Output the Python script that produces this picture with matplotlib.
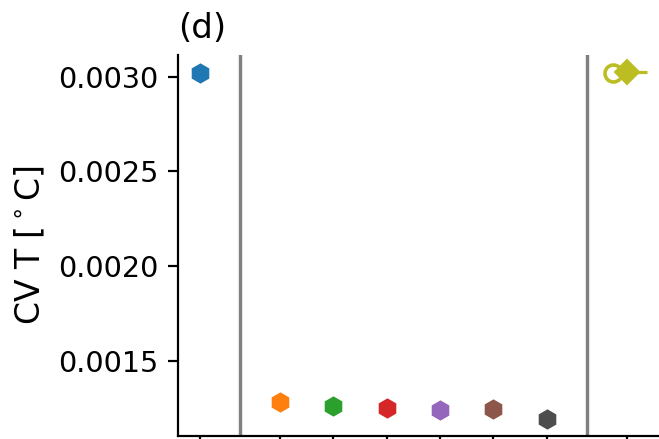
import matplotlib
matplotlib.use("Agg")
import matplotlib.pyplot as plt

# data
x_pos = [0, 1.5, 2.5, 3.5, 4.5, 5.5, 6.5]
cv_vals = [0.003021, 0.001279, 0.001261, 0.001247, 0.001240, 0.001242, 0.001190]
colors = ["#1f77b4", "#ff7f0e", "#2ca02c", "#d62728", "#9467bd", "#8c564b", "#4d4d4d"]
obs_x = 8.0
obs_circle_val = 0.003020
obs_diamond_val = 0.003025
sep_lines = [0.75, 7.25]
xticks = [0, 1.5, 2.5, 3.5, 4.5, 5.5, 6.5, 8]
yticks = [0.0015, 0.0020, 0.0025, 0.0030]
ytick_labels = ["0.0015", "0.0020", "0.0025", "0.0030"]

DPI = 144
fig = plt.figure(figsize=(659 / DPI, 439 / DPI), dpi=DPI)

W, H = 659, 439
px_per_unit = 53.33
x_left = -0.4125
x_right = 9.0
left_px = 178
right_px = left_px + (x_right - x_left) * px_per_unit
top_px, bot_px = 55, 436
ax = fig.add_axes([left_px / W, (H - bot_px) / H, (right_px - left_px) / W, (bot_px - top_px) / H])

for x, v, c in zip(x_pos, cv_vals, colors):
    ax.plot(x, v, marker='h', ms=9, color=c, linestyle='none', zorder=3)

ax.plot(obs_x, obs_diamond_val, marker=1, ms=10, mew=1.6, color="#bcbd22", zorder=3)
ax.plot(obs_x - 0.25, obs_circle_val, marker='o', ms=8.5, mfc='white', mec="#bcbd22", mew=1.8,
        linestyle='none', zorder=3)
ax.plot(obs_x, obs_diamond_val, marker='D', ms=8.5, color="#bcbd22", linestyle='none', zorder=4)

for xl in sep_lines:
    ax.axvline(xl, color='grey', lw=1.7, zorder=2)

ax.set_xlim(x_left, x_right)
ax.set_ylim(0.001101, 0.003115)
ax.set_yticks(yticks)
ax.set_yticklabels(ytick_labels, fontsize=14.3)
ax.set_xticks(xticks)
ax.set_xticklabels([""] * len(xticks))
ax.tick_params(length=4.9, width=1.1, pad=4.9)
for s in ['left', 'bottom']:
    ax.spines[s].set_linewidth(1.1)
ax.spines['top'].set_visible(False)
ax.spines['right'].set_visible(False)
ax.set_ylabel(r"CV T [$^\circ$C]", fontsize=16.5, labelpad=5.5)
ax.set_title("(d)", loc='left', fontsize=17, pad=8.3)

fig.savefig("out.png", dpi=DPI)
